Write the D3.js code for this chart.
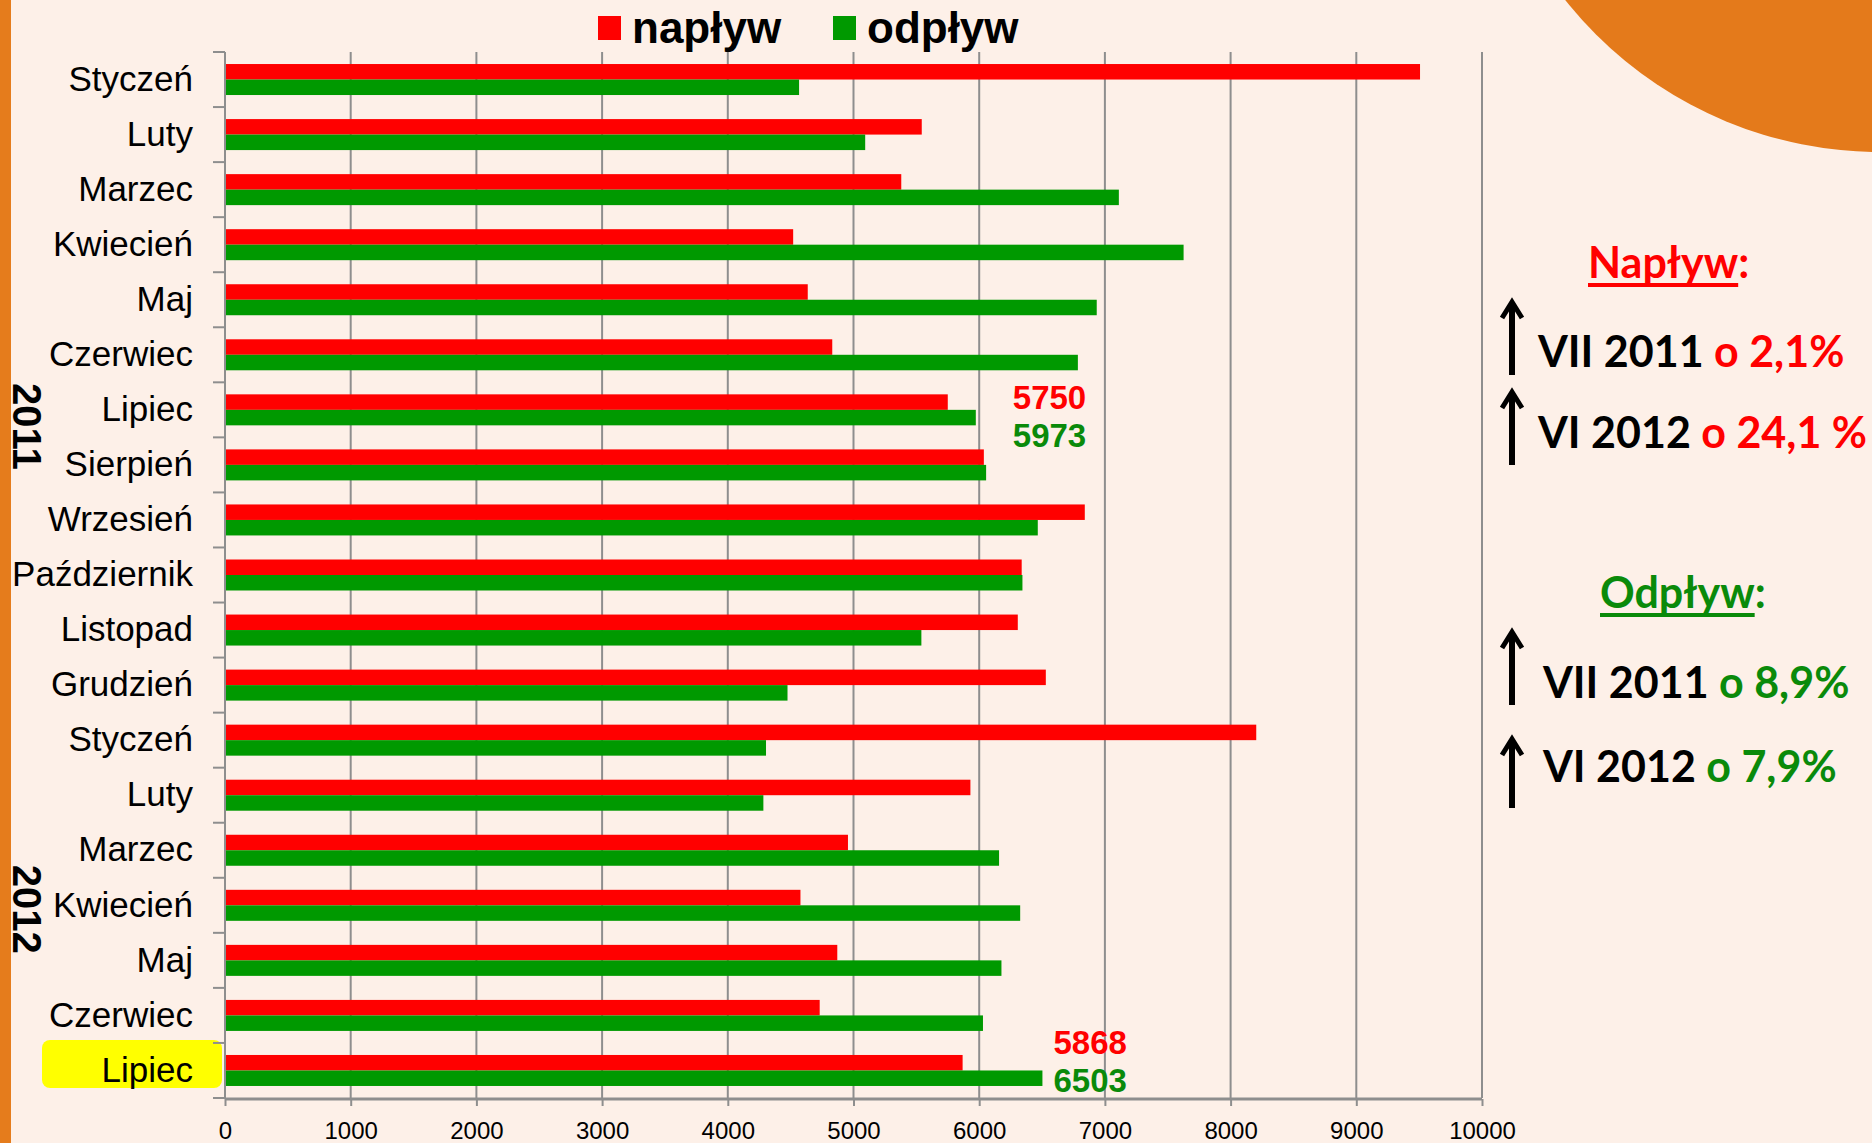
<!DOCTYPE html>
<html>
<head>
<meta charset="utf-8">
<script src="https://cdn.jsdelivr.net/npm/d3@7"></script>
<style>
  body { margin: 0; background: #fdf0e8; }
  svg { display: block; }
</style>
</head>
<body>
<div id="chart"></div>
<script>
// data
const months = ["Styczeń", "Luty", "Marzec", "Kwiecień", "Maj", "Czerwiec", "Lipiec",
  "Sierpień", "Wrzesień", "Październik", "Listopad", "Grudzień",
  "Styczeń", "Luty", "Marzec", "Kwiecień", "Maj", "Czerwiec", "Lipiec"];
const naplyw = [9507, 5543, 5380, 4520, 4636, 4831, 5750, 6037, 6840, 6338, 6307, 6530,
  8204, 5930, 4956, 4578, 4871, 4731, 5868];
const odplyw = [4567, 5093, 7111, 7626, 6935, 6785, 5973, 6055, 6466, 6344, 5540, 4475,
  4304, 4283, 6158, 6326, 6177, 6030, 6503];
const seriesNames = ["napływ", "odpływ"];
const xTicks = [0, 1000, 2000, 3000, 4000, 5000, 6000, 7000, 8000, 9000, 10000];
const yearNames = ["2011", "2012"];
const labelledRows = [6, 18];          // rows whose values are written out
const highlightRow = 18;

const colors = { "napływ": "#ff0000", "odpływ": "#009900" };
const textColors = { "napływ": "#ff0000", "odpływ": "#0a8a0a" };

const width = 1872, height = 1143;
const plot = { left: 225, right: 1482, top: 52, bottom: 1098 };
const font = "'Liberation Sans', Arial, sans-serif";

const svg = d3.select("#chart").append("svg")
  .attr("width", width)
  .attr("height", height);

// background + decorations
svg.append("rect").attr("width", width).attr("height", height).attr("fill", "#fdf0e8");
svg.append("circle").attr("cx", 1880).attr("cy", -250).attr("r", 402).attr("fill", "#e47a1b");
svg.append("rect").attr("x", 0).attr("y", 0).attr("width", 11).attr("height", height).attr("fill", "#e57c1c");

const rows = d3.range(months.length);

const x = d3.scaleLinear().domain([0, 10000]).range([plot.left, plot.right]);
const y = d3.scaleBand().domain(rows).range([plot.top, plot.bottom]);
const ySub = d3.scaleBand().domain(seriesNames)
  .range([y.bandwidth() / 2 - 15.5, y.bandwidth() / 2 + 15.5]);

// yellow highlight behind last label
svg.append("rect")
  .attr("x", 42).attr("y", y(highlightRow) - 3)
  .attr("width", 180).attr("height", y.bandwidth() - 7)
  .attr("rx", 8)
  .attr("fill", "#ffff00");

// gridlines
svg.append("g")
  .selectAll("line")
  .data(xTicks.filter(d => d > 0))
  .enter()
  .append("line")
  .attr("x1", d => x(d)).attr("x2", d => x(d))
  .attr("y1", plot.top).attr("y2", plot.bottom)
  .attr("stroke", "#8e8e8e")
  .attr("stroke-width", 2);

// bars
const table = rows.map(i => ({ i: i, "napływ": naplyw[i], "odpływ": odplyw[i] }));

const groups = svg.append("g")
  .selectAll("g")
  .data(table)
  .enter()
  .append("g")
  .attr("transform", d => "translate(0," + y(d.i) + ")");

groups.selectAll("rect")
  .data(d => seriesNames.map(s => ({ key: s, value: d[s] })))
  .enter()
  .append("rect")
  .attr("x", x(0))
  .attr("y", d => ySub(d.key))
  .attr("width", d => x(d.value) - x(0))
  .attr("height", ySub.bandwidth())
  .attr("fill", d => colors[d.key]);

// y axis (labels)
const yAxis = d3.axisLeft(y).tickSize(0).tickPadding(32).tickFormat(i => months[i]);
const gy = svg.append("g")
  .attr("transform", "translate(" + plot.left + ",0)")
  .call(yAxis);
gy.select(".domain").remove();
gy.selectAll("text")
  .style("font-family", font)
  .style("font-size", "35px")
  .attr("fill", "#000");

// y axis line and category boundary ticks
svg.append("line")
  .attr("x1", plot.left).attr("x2", plot.left)
  .attr("y1", plot.top).attr("y2", plot.bottom)
  .attr("stroke", "#8e8e8e").attr("stroke-width", 2);
svg.append("g")
  .selectAll("line")
  .data(d3.range(months.length + 1))
  .enter()
  .append("line")
  .attr("x1", plot.left - 12).attr("x2", plot.left)
  .attr("y1", d => plot.top + d * y.step())
  .attr("y2", d => plot.top + d * y.step())
  .attr("stroke", "#8e8e8e").attr("stroke-width", 2);

// x axis
const xAxis = d3.axisBottom(x).tickValues(xTicks).tickSize(7).tickPadding(16).tickFormat(d3.format("d"));
const gx = svg.append("g")
  .attr("transform", "translate(0," + (plot.bottom + 1) + ")")
  .call(xAxis);
gx.select(".domain").attr("stroke", "#8e8e8e").attr("stroke-width", 3)
  .attr("d", "M" + plot.left + ",0H" + plot.right);
gx.selectAll(".tick line").attr("stroke", "#8e8e8e").attr("stroke-width", 2);
gx.selectAll("text")
  .style("font-family", font)
  .style("font-size", "24px")
  .attr("fill", "#000");

// year labels
const yearAt = [6.8, 15.57];
svg.append("g")
  .selectAll("text")
  .data(yearNames)
  .enter()
  .append("text")
  .attr("transform", (d, k) => "translate(27," + (plot.top + yearAt[k] * y.step()) + ") rotate(90)")
  .attr("text-anchor", "middle")
  .attr("dominant-baseline", "central")
  .style("font-family", font)
  .style("font-weight", "bold")
  .style("font-size", "40px")
  .text(d => d);

// value labels next to the Lipiec rows (two lines in one text)
const labelShift = [{ dx: 37, dy: [-1, 37] }, { dx: 11, dy: [-16, 22] }];
labelledRows.forEach((row, k) => {
  const xPos = x(Math.max(naplyw[row], odplyw[row])) + labelShift[k].dx;
  const base = y(row) + y.bandwidth() / 2;
  const t = svg.append("text")
    .attr("x", xPos)
    .attr("y", base + labelShift[k].dy[0])
    .style("font-family", font)
    .style("font-weight", "bold")
    .style("font-size", "33px");
  t.append("tspan")
    .attr("fill", textColors["napływ"])
    .text(naplyw[row]);
  t.append("tspan")
    .attr("x", xPos)
    .attr("dy", labelShift[k].dy[1] - labelShift[k].dy[0])
    .attr("fill", textColors["odpływ"])
    .text(odplyw[row]);
});

// legend
const legend = svg.append("g")
  .selectAll("g")
  .data(seriesNames)
  .enter()
  .append("g")
  .attr("transform", (d, k) => "translate(" + (598 + k * 235) + ",16)");
legend.append("rect")
  .attr("width", 23).attr("height", 24)
  .attr("fill", d => colors[d]);
legend.append("text")
  .attr("x", 34).attr("y", 27)
  .style("font-family", font)
  .style("font-weight", "bold")
  .style("font-size", "44px")
  .text(d => d);

// right-hand notes
const notes = [
  { title: "Napływ", color: textColors["napływ"], titleX: 1588, titleY: 278,
    lines: [["VII 2011 ", "o 2,1%"], ["VI 2012 ", "o 24,1 %"]], lineX: 1538, lineY: [367, 448],
    arrows: [[300, 375], [390, 465]] },
  { title: "Odpływ", color: textColors["odpływ"], titleX: 1600, titleY: 608,
    lines: [["VII 2011 ", "o 8,9%"], ["VI 2012 ", "o 7,9%"]], lineX: 1543, lineY: [698, 782],
    arrows: [[630, 705], [737, 808]] }
];
const noteFont = "Lato, 'Open Sans', sans-serif";

notes.forEach(n => {
  const t = svg.append("text")
    .attr("x", n.titleX).attr("y", n.titleY)
    .style("font-family", noteFont)
    .style("font-weight", "bold")
    .style("font-size", "43px")
    .attr("fill", n.color);
  const word = t.append("tspan").text(n.title);
  t.append("tspan").text(":");
  const wlen = word.node().getComputedTextLength();
  svg.append("rect")
    .attr("x", n.titleX).attr("y", n.titleY + 5)
    .attr("width", wlen).attr("height", 4)
    .attr("fill", n.color);

  n.lines.forEach((ln, k) => {
    const tl = svg.append("text")
      .attr("x", n.lineX).attr("y", n.lineY[k])
      .style("font-family", noteFont)
      .style("font-weight", "bold")
      .style("font-size", "43px");
    tl.append("tspan").attr("fill", "#000").text(ln[0]);
    tl.append("tspan").attr("fill", n.color).text(ln[1]);
  });

  n.arrows.forEach(a => {
    const ax = 1512;
    svg.append("line")
      .attr("x1", ax).attr("x2", ax)
      .attr("y1", a[0] + 3).attr("y2", a[1])
      .attr("stroke", "#000").attr("stroke-width", 6);
    svg.append("path")
      .attr("d", "M" + (ax - 10) + "," + (a[0] + 18) + "L" + ax + "," + (a[0] + 2) + "L" + (ax + 10) + "," + (a[0] + 18))
      .attr("fill", "none").attr("stroke", "#000").attr("stroke-width", 5)
      .attr("stroke-linejoin", "miter");
  });
});
</script>
</body>
</html>
